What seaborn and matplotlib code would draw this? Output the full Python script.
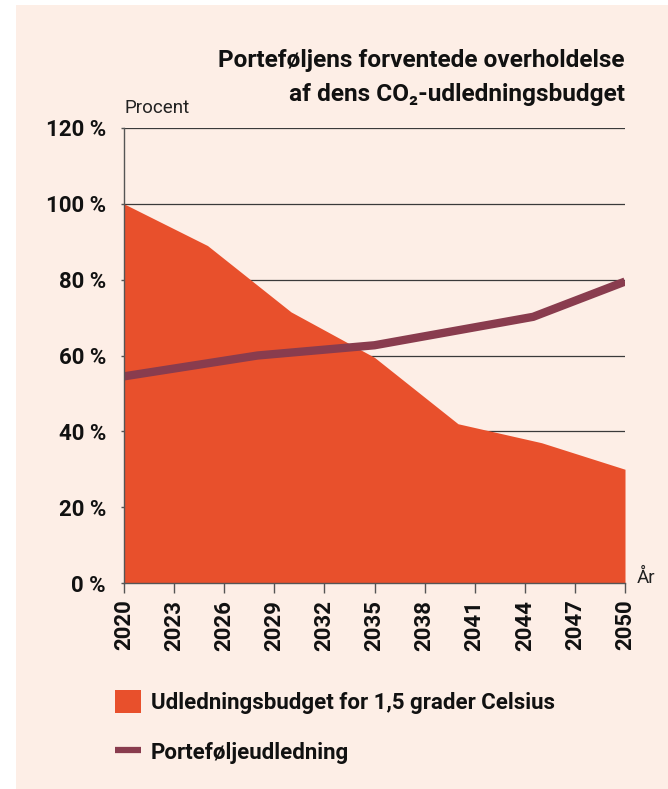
import matplotlib
matplotlib.use("Agg")
import matplotlib.pyplot as plt
import seaborn as sns
import pandas as pd
from matplotlib.patches import Patch, Rectangle
from matplotlib.lines import Line2D

# ---- data ----
budget_years = [2020, 2025, 2030, 2035, 2040, 2045, 2050]
budget_values = [100, 89, 71.5, 59.5, 42, 37, 30]

portfolio_years = [2020, 2028, 2035, 2044.5, 2050]
portfolio_values = [54.5, 60, 62.7, 70.2, 79.5]

x_ticks = [2020, 2023, 2026, 2029, 2032, 2035, 2038, 2041, 2044, 2047, 2050]
y_ticks = [0, 20, 40, 60, 80, 100, 120]
y_tick_labels = ["0 %", "20 %", "40 %", "60 %", "80 %", "100 %", "120 %"]

title_lines = ["Porteføljens forventede overholdelse", "af dens CO₂-udledningsbudget"]
legend_labels = ["Udledningsbudget for 1,5 grader Celsius", "Porteføljeudledning"]

BG = "#FDEEE6"
ORANGE = "#E8502C"
PURPLE = "#893C4E"

sns.set_theme(style="white")
plt.rcParams["font.family"] = ["Roboto", "DejaVu Sans"]

W, H = 668, 789
fig = plt.figure(figsize=(W / 100, H / 100), dpi=100)
fig.patch.set_facecolor("white")
fig.add_artist(Rectangle((16 / W, 0), 1 - 16 / W, 1 - 5 / H, transform=fig.transFigure,
                         facecolor=BG, edgecolor="none", zorder=-10))

ax_l, ax_r, ax_t, ax_b = 124, 625, 128, 583
ax = fig.add_axes([ax_l / W, 1 - ax_b / H, (ax_r - ax_l) / W, (ax_b - ax_t) / H])
ax.set_facecolor("none")

df_b = pd.DataFrame({"year": budget_years, "value": budget_values})
df_p = pd.DataFrame({"year": portfolio_years, "value": portfolio_values})

ax.fill_between(df_b["year"], 0, df_b["value"], color=ORANGE, linewidth=0, zorder=2)
sns.lineplot(data=df_p, x="year", y="value", ax=ax, color=PURPLE, linewidth=6,
             solid_capstyle="butt", zorder=3, legend=False)

ax.set_xlim(2020, 2050)
ax.set_ylim(0, 120)
ax.set_xticks(x_ticks)
ax.set_xticklabels([str(t) for t in x_ticks], rotation=90, fontweight="bold", fontsize=16)
ax.set_yticks(y_ticks)
ax.set_yticklabels(y_tick_labels, fontweight="bold", fontsize=16)
ax.set_xlabel("")
ax.set_ylabel("")

for y in y_ticks[1:]:
    ax.axhline(y, color="#3a3a3a", linewidth=0.9, zorder=1)

for s in ["top", "right"]:
    ax.spines[s].set_visible(False)
for s in ["left", "bottom"]:
    ax.spines[s].set_color("#555555")
    ax.spines[s].set_linewidth(1.0)
    ax.spines[s].set_zorder(4)

ax.tick_params(axis="x", which="both", bottom=True, length=7, width=1, color="#555555",
               pad=5, labelcolor="#111111")
ax.tick_params(axis="y", which="both", left=True, length=2, width=1, color="#555555",
               pad=11, labelcolor="#111111")

# texts
fig.text(ax_r / W, 1 - 61 / H, title_lines[0], ha="right", va="center",
         fontsize=17.6, fontweight="bold", color="#111111")
fig.text(ax_r / W, 1 - 95 / H, title_lines[1], ha="right", va="center",
         fontsize=17.6, fontweight="bold", color="#111111")
fig.text(ax_l / W, 1 - 108 / H, "Procent", ha="left", va="center", fontsize=13.5, color="#222222")
fig.text(637 / W, 1 - 578 / H, "År", ha="left", va="center", fontsize=13.5, color="#222222")

handles = [Patch(facecolor=ORANGE, edgecolor="none"),
           Line2D([0], [0], color=PURPLE, linewidth=4.5, solid_capstyle="butt")]
leg = fig.legend(handles, legend_labels, loc="upper left",
                 bbox_to_anchor=(115 / W, 1 - 690 / H), bbox_transform=fig.transFigure,
                 frameon=False, prop={"weight": "bold", "size": 16},
                 handlelength=1.15, handleheight=1.2, handletextpad=0.45,
                 labelspacing=1.2, borderpad=0, borderaxespad=0)
for t in leg.get_texts():
    t.set_color("#111111")

fig.savefig("out.png", dpi=100, facecolor=fig.get_facecolor())
